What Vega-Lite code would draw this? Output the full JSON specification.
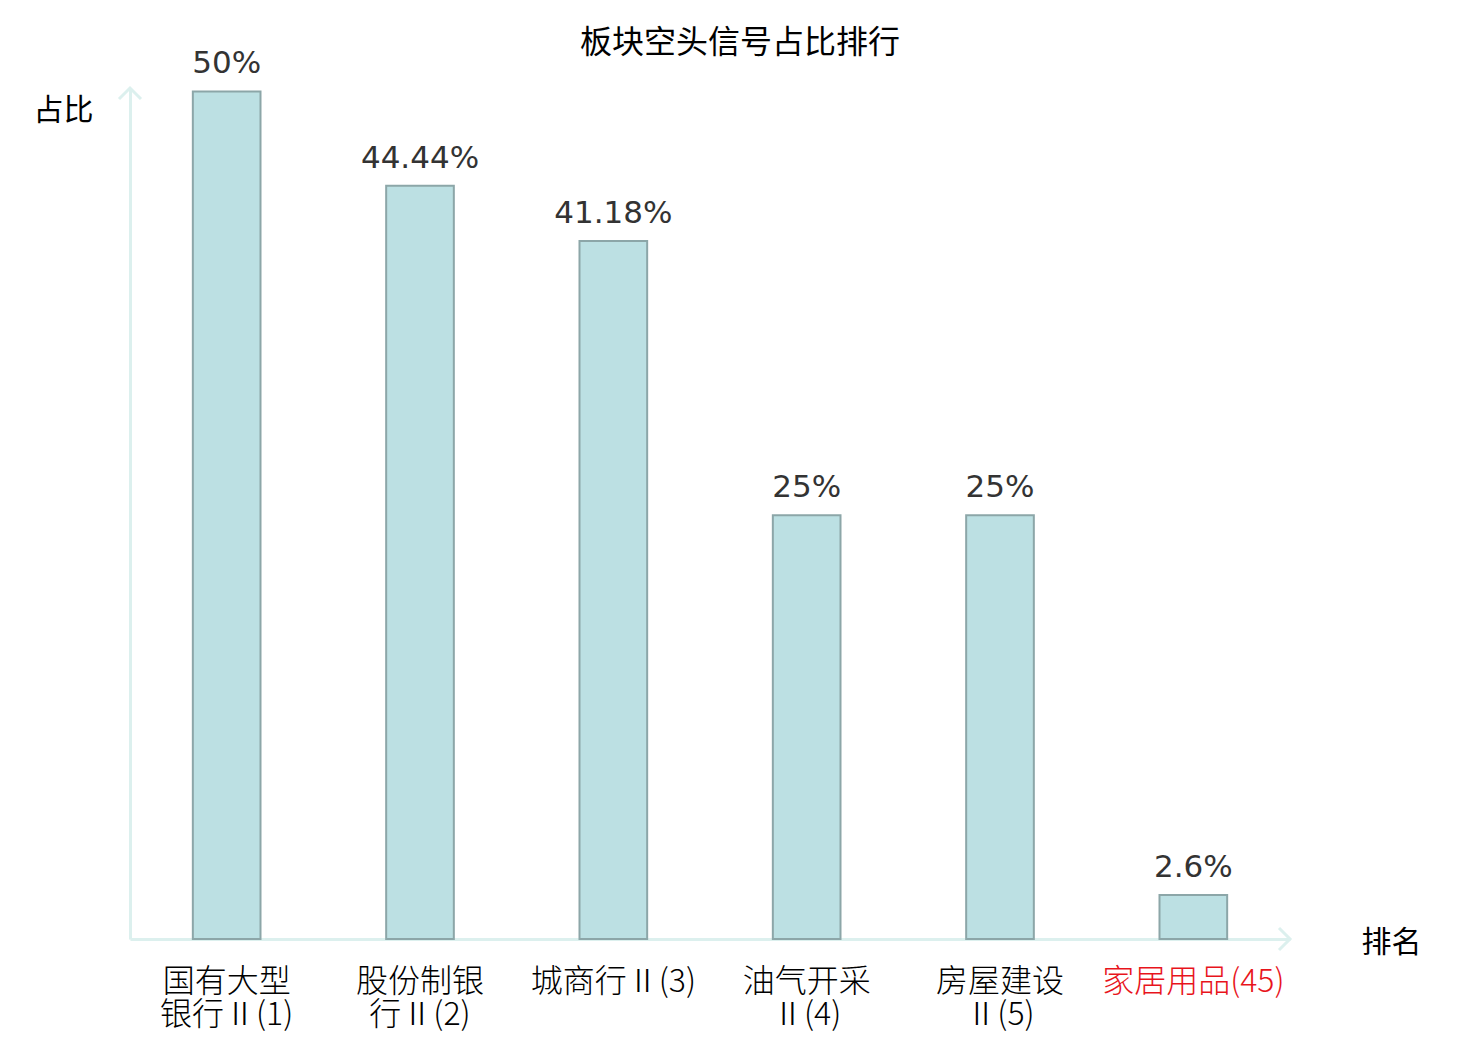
{
  "$schema": "https://vega.github.io/schema/vega-lite/v6.json",
  "autosize": "none",
  "width": 1160,
  "height": 851,
  "padding": {"left": 130, "top": 88, "right": 190, "bottom": 101},
  "background": "white",
  "title": {
    "text": "板块空头信号占比排行",
    "font": "Noto Sans CJK SC",
    "fontSize": 32,
    "fontWeight": "normal",
    "color": "#000000",
    "anchor": "middle",
    "dx": 30,
    "offset": -12
  },
  "config": {"view": {"stroke": null}},
  "data": {
    "values": [
      {"sector": "国有大型\n银行Ⅱ(1)", "pct": 50, "label": "50%"},
      {"sector": "股份制银\n行Ⅱ(2)", "pct": 44.44, "label": "44.44%"},
      {"sector": "城商行Ⅱ(3)", "pct": 41.18, "label": "41.18%"},
      {"sector": "油气开采\nⅡ(4)", "pct": 25, "label": "25%"},
      {"sector": "房屋建设\nⅡ(5)", "pct": 25, "label": "25%"},
      {"sector": "家居用品(45)", "pct": 2.6, "label": "2.6%"}
    ]
  },
  "layer": [
    {
      "mark": {"type": "bar", "fill": "#bce0e3", "stroke": "#8ca6a8", "strokeWidth": 2},
      "encoding": {
        "x": {
          "field": "sector",
          "type": "nominal",
          "sort": null,
          "scale": {"paddingInner": 0.65, "paddingOuter": 0.325},
          "axis": {
            "title": "排名",
            "titleFont": "Noto Sans CJK SC",
            "titleFontSize": 30,
            "titleFontWeight": "normal",
            "titleColor": "#000000",
            "titleAngle": 0,
            "titleAlign": "center",
            "titleBaseline": "middle",
            "titleX": 1261,
            "titleY": 3,
            "domainColor": "#dcf0ee",
            "domainWidth": 3,
            "ticks": false,
            "labelAngle": 0,
            "labelFont": "Noto Sans CJK SC",
            "labelFontSize": 32,
            "labelFontWeight": 300,
            "labelLineHeight": 33,
            "labelPadding": 27,
            "labelLimit": 400,
            "labelExpr": "split(datum.label, '\\n')",
            "labelColor": {"condition": {"test": "datum.value == '家居用品(45)'", "value": "#e8141c"}, "value": "#000000"}
          }
        },
        "y": {
          "field": "pct",
          "type": "quantitative",
          "scale": {"domain": [0, 50.2], "nice": false},
          "axis": {
            "title": "占比",
            "titleFont": "Noto Sans CJK SC",
            "titleFontSize": 30,
            "titleFontWeight": "normal",
            "titleColor": "#000000",
            "titleAngle": 0,
            "titleAlign": "center",
            "titleBaseline": "middle",
            "titleX": -67,
            "titleY": 22,
            "domainColor": "#dcf0ee",
            "domainWidth": 3,
            "ticks": false,
            "labels": false,
            "grid": false
          }
        }
      }
    },
    {
      "mark": {"type": "text", "font": "DejaVu Sans", "fontSize": 31, "color": "#333333", "baseline": "alphabetic", "dy": -18},
      "encoding": {
        "x": {"field": "sector", "type": "nominal", "sort": null},
        "y": {"field": "pct", "type": "quantitative"},
        "text": {"field": "label"}
      }
    },
    {
      "data": {"values": [{"axis": "y"}]},
      "mark": {"type": "point", "shape": "M-1,1L0,0L1,1", "size": 484, "filled": false, "stroke": "#dcf0ee", "strokeWidth": 3, "opacity": 1},
      "encoding": {
        "x": {"value": 0},
        "y": {"datum": 50.2}
      }
    },
    {
      "data": {"values": [{"axis": "x"}]},
      "mark": {"type": "point", "shape": "M-1,-1L0,0L-1,1", "size": 484, "filled": false, "stroke": "#dcf0ee", "strokeWidth": 3, "opacity": 1},
      "encoding": {
        "x": {"value": "width"},
        "y": {"datum": 0}
      }
    }
  ]
}
